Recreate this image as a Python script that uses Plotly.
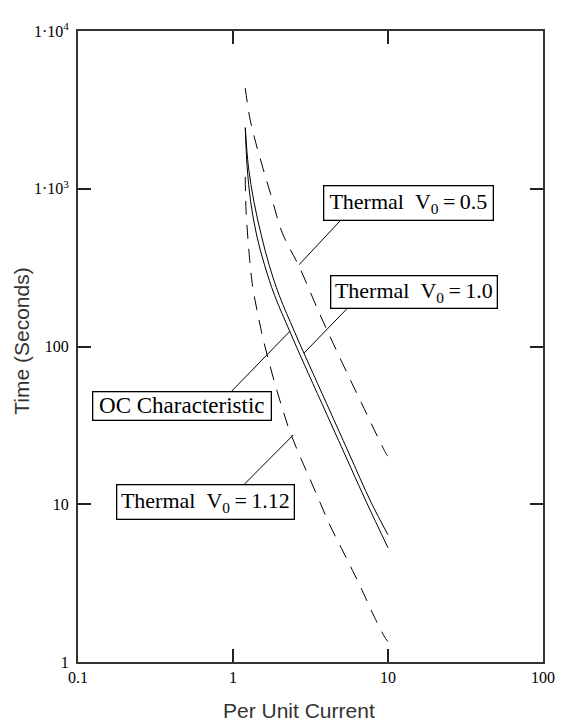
import math
import plotly.graph_objects as go

# ---- data (Per Unit Current vs Time in seconds) ----
oc_current = [1.2, 1.234, 1.299, 1.425, 1.603, 1.855, 2.33, 2.88, 3.75, 5.22, 7.26, 10]
oc_time = [2440, 1372, 829, 501, 325, 211, 124, 77.2, 43.4, 21.1, 10.3, 5.3]

th10_current = [1.2, 1.258, 1.364, 1.527, 1.717, 1.987, 2.495, 3.087, 4.02, 5.59, 7.77, 10]
th10_time = [2440, 1372, 829, 501, 325, 211, 124, 77.2, 43.4, 21.1, 10.3, 6.4]

th05_current = [1.2, 1.283, 1.401, 1.553, 1.746, 2.083, 2.672, 3.58, 4.875, 6.73, 9.85, 10]
th05_time = [4340, 2818, 1966, 1372, 931, 523, 321, 165.5, 85.4, 44.0, 20.5, 20.2]

th112_current = [1.2, 1.215, 1.283, 1.341, 1.432, 1.553, 1.696, 1.866, 2.083, 2.324,
                 2.711, 3.116, 3.636, 4.209, 5.02, 5.90, 6.98, 8.14, 9.64, 10]
th112_time = [1189, 718, 350, 237, 168, 115, 81.8, 57.9, 40.4, 29.0,
              20.0, 14.7, 10.3, 7.4, 5.23, 3.81, 2.70, 1.94, 1.41, 1.35]

x_tickvals = [0.1, 1, 10, 100]
x_ticktext = ["0.1", "1", "10", "100"]
y_tickvals = [1, 10, 100, 1000, 10000]
y_ticktext = ["1", "10", "100", "1·10<sup>3</sup>", "1·10<sup>4</sup>"]

# label boxes: text, centre (current, time), box w/h, font size, leader start, leader tip
labels = [
    ("Thermal\u00a0\u00a0V<sub>0</sub>\u2009=\u20090.5", 13.6, 811, 166, 31, 22,
     (4.95, 631), (2.67, 330)),
    ("Thermal\u00a0\u00a0V<sub>0</sub>\u2009=\u20091.0", 14.7, 222, 163, 29, 22,
     (5.48, 175), (2.875, 91)),
    ("OC\u00a0Characteristic", 0.47, 41.9, 175, 25, 23,
     (0.971, 51.6), (2.33, 125)),
    ("Thermal\u00a0\u00a0V<sub>0</sub>\u2009=\u20091.12", 0.664, 10.4, 174, 31, 22,
     (1.175, 13.3), (2.45, 27.5)),
]

fig = go.Figure()
line_solid = dict(color="black", width=1)
line_dash = dict(color="black", width=1, dash="14px,10px")

fig.add_trace(go.Scatter(x=th05_current, y=th05_time, mode="lines", line=line_dash,
                         line_shape="spline", name="Thermal V0=0.5"))
fig.add_trace(go.Scatter(x=th10_current, y=th10_time, mode="lines", line=line_solid,
                         line_shape="spline", name="Thermal V0=1.0"))
fig.add_trace(go.Scatter(x=oc_current, y=oc_time, mode="lines", line=line_solid,
                         line_shape="spline", name="OC Characteristic"))
fig.add_trace(go.Scatter(x=th112_current, y=th112_time, mode="lines", line=line_dash,
                         line_shape="spline", name="Thermal V0=1.12"))

for text, cx, cy, w, h, fs, p0, p1 in labels:
    fig.add_trace(go.Scatter(x=[p0[0], p1[0]], y=[p0[1], p1[1]], mode="lines",
                             line=dict(color="black", width=1), hoverinfo="skip"))
    fig.add_annotation(x=math.log10(cx), y=math.log10(cy), xref="x", yref="y",
                       text=text, showarrow=False, xanchor="center", yanchor="middle",
                       width=w, height=h, align="center", valign="middle",
                       bgcolor="white", bordercolor="black", borderwidth=1.3, borderpad=1,
                       font=dict(family="Liberation Serif", size=fs, color="black"))

fig.add_annotation(text="Per Unit Current", xref="paper", yref="paper",
                   x=0.475, y=-0.077, showarrow=False, xanchor="center", yanchor="middle",
                   font=dict(family="Liberation Sans", size=21, color="#333"))
fig.add_annotation(text="Time (Seconds)", xref="paper", yref="paper",
                   x=-0.122, y=0.508, showarrow=False, textangle=-90,
                   xanchor="center", yanchor="middle",
                   font=dict(family="Liberation Sans", size=21, color="#333"))

axis_common = dict(type="log", showgrid=False, zeroline=False, showline=True,
                   linecolor="#333", linewidth=2, mirror="ticks", ticks="inside",
                   ticklen=13, tickwidth=1.5, tickcolor="#222", tickmode="array",
                   tickfont=dict(family="Liberation Serif", size=16, color="black"))

# page body has an 8px margin, so the figure is made 8px smaller and margins shifted
fig.update_layout(
    width=559, height=715,
    margin=dict(l=70, r=19, t=13, b=61),
    paper_bgcolor="white", plot_bgcolor="white",
    showlegend=False,
    xaxis=dict(range=[-1, 2], tickvals=x_tickvals, ticktext=x_ticktext, **axis_common),
    yaxis=dict(range=[0, 4], tickvals=y_tickvals, ticktext=y_ticktext,
               ticklabelstandoff=4, **axis_common),
)

fig.write_html("out.html")
